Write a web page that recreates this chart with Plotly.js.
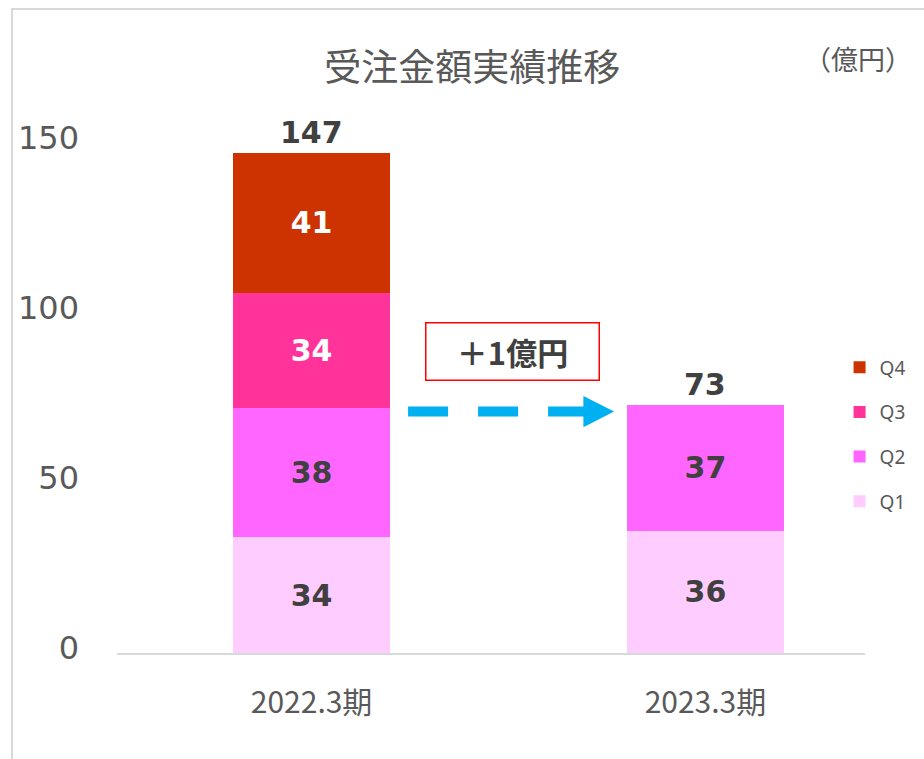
<!DOCTYPE html>
<html><head><meta charset="utf-8">
<script src="https://cdn.plot.ly/plotly-3.0.1.min.js"></script>
<style>
html,body{margin:0;padding:0;background:#fff;}
#wrap{position:relative;width:924px;height:759px;overflow:hidden;}
#chart{position:absolute;left:0;top:0;width:924px;height:759px;}
#frame{position:absolute;left:11px;top:8px;width:1000px;height:1000px;border-left:2px solid #d9d9d9;border-top:2px solid #d9d9d9;pointer-events:none;}
</style></head>
<body>
<div id="wrap"><div id="chart"></div><div id="frame"></div></div>
<script>
// ---- data ----
const categories = ['2022.3期', '2023.3期'];
const seriesNames = ['Q1', 'Q2', 'Q3', 'Q4'];
const q1 = [34, 36];
const q2 = [38, 37];
const q3 = [34, null];
const q4 = [41, null];
const titleText = '受注金額実績推移';
const unitText = '（億円）';
const deltaText = '＋1億円';
const yTicks = [0, 50, 100, 150];

// ---- style ----
const colors = ['#FFCCFF', '#FF66FF', '#FF3399', '#CC3300'];
const labelColors = ['#404040', '#404040', '#ffffff', '#ffffff'];
const series = [q1, q2, q3, q4];
const numFont = 'DejaVu Sans, Verdana, sans-serif';
const jpFont = 'Noto Sans CJK JP, sans-serif';
const barWidth = 0.398;

const traces = series.map((vals, i) => ({
  type: 'bar',
  name: seriesNames[i],
  x: categories,
  y: vals,
  width: barWidth,
  marker: {color: colors[i], line: {width: 0}},
  text: vals.map(v => v == null ? '' : String(v)),
  texttemplate: '%{text}',
  textposition: 'inside',
  insidetextanchor: 'middle',
  textangle: 0,
  constraintext: 'none',
  textfont: {family: numFont, size: 30, color: labelColors[i], weight: 'bold'},
  hoverinfo: 'skip',
  legendgroup: 'g' + i,
  legendrank: 1000 - i
}));

const totals = categories.map((c, j) => series.reduce((s, arr) => s + (arr[j] || 0), 0));

const annotations = categories.map((c, j) => ({
  x: c, y: totals[j], xref: 'x', yref: 'y',
  text: '<b>' + totals[j] + '</b>',
  showarrow: false, yanchor: 'bottom', yshift: 1,
  font: {family: numFont, size: 30, color: '#404040'}
}));
annotations.push({
  xref: 'paper', yref: 'paper', x: 0.99, y: 1.092, xanchor: 'center', yanchor: 'middle',
  text: unitText, showarrow: false,
  font: {family: jpFont, size: 27, color: '#595959'}
});
annotations.push({
  xref: 'x', yref: 'y', x: 0.511, y: 88.8, xanchor: 'center', yanchor: 'middle',
  text: '<b>' + deltaText + '</b>', showarrow: false,
  font: {family: jpFont, size: 31, color: '#404040'},
  bordercolor: '#ff0000', borderwidth: 1.5, borderpad: 8,
  width: 156, height: 40, bgcolor: '#ffffff'
});

const arrowY = 71;
const shapes = [
  {type: 'line', xref: 'x', yref: 'y', x0: 0.245, x1: 0.70, y0: arrowY, y1: arrowY,
   line: {color: '#00B0F0', width: 10, dash: '40px,30px'}},
  {type: 'path', xref: 'x', yref: 'y',
   path: 'M 0.69 ' + (arrowY + 4.6) + ' L 0.768 ' + arrowY + ' L 0.69 ' + (arrowY - 4.6) + ' Z',
   fillcolor: '#00B0F0', line: {width: 0}}
];

const layout = {
  width: 924, height: 759,
  margin: {l: 117, r: 59, t: 109, b: 106},
  paper_bgcolor: '#ffffff', plot_bgcolor: '#ffffff',
  barmode: 'stack',
  showlegend: true,
  title: {text: titleText, x: 0.511, xref: 'container', y: 0.91, yanchor: 'middle',
          font: {family: jpFont, size: 37, color: '#595959'}},
  xaxis: {type: 'category', range: [-0.494, 1.405], showline: true, linecolor: '#d9d9d9', linewidth: 2,
          ticks: '', showgrid: false, zeroline: false, ticklabelstandoff: 22,
          tickfont: {family: jpFont, size: 30, color: '#595959'}},
  yaxis: {range: [0, 160], tickvals: yTicks, showgrid: false, zeroline: false, showline: false,
          ticks: '', ticklabelstandoff: 37, ticklabelshift: -5,
          tickfont: {family: numFont, size: 32, color: '#595959'}},
  legend: {x: 0.966, xanchor: 'left', y: 0.56, yanchor: 'top', traceorder: 'grouped',
           tracegroupgap: 17, bgcolor: 'rgba(0,0,0,0)',
           font: {family: 'Noto Sans, sans-serif', size: 19, color: '#595959'}},
  annotations: annotations,
  shapes: shapes
};

Plotly.newPlot('chart', traces, layout, {displayModeBar: false, staticPlot: true});
</script>
</body></html>
